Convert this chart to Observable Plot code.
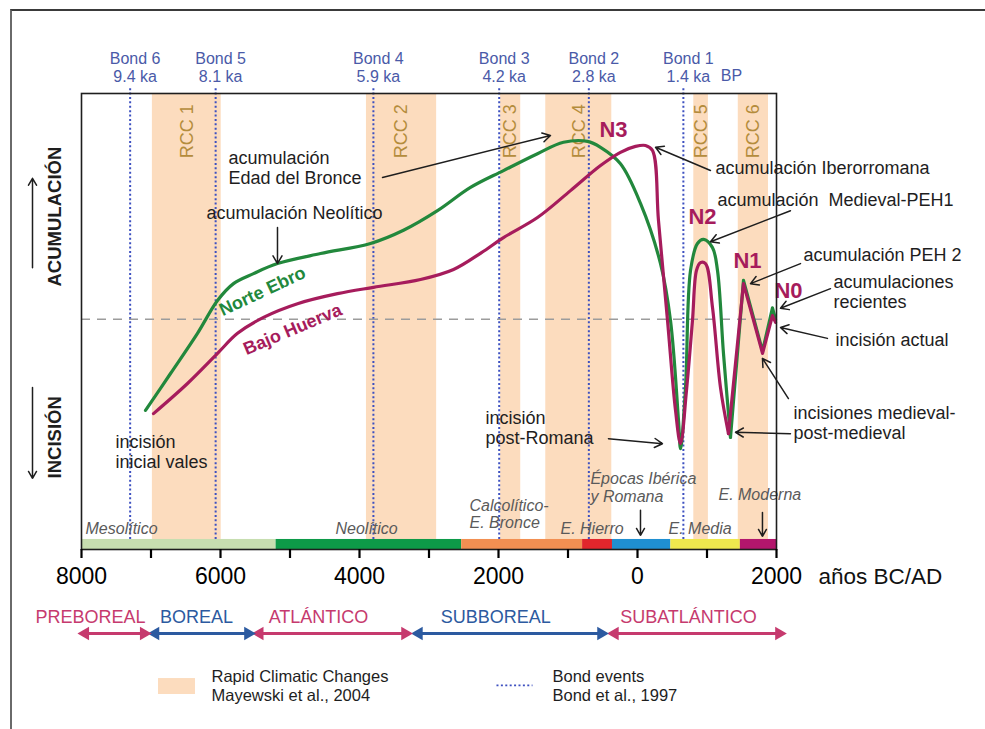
<!DOCTYPE html>
<html>
<head>
<meta charset="utf-8">
<script src="https://cdn.jsdelivr.net/npm/d3@7"></script>
<script src="https://cdn.jsdelivr.net/npm/@observablehq/plot@0.6"></script>
<style>
  body { margin: 0; background: #fff; }
  #wrap { position: relative; width: 985px; height: 729px; overflow: hidden; }
  #wrap svg { position: absolute; left: 0; top: 0; }
  #border { position: absolute; left: 10px; top: 9px; right: -5px; bottom: -5px;
            border-top: 2px solid #3a3a3a; border-left: 2px solid #6a6a6a; pointer-events: none; }
</style>
</head>
<body>
<div id="wrap"></div>
<script>
// ---------------- DATA ----------------
const tickYears = [-8000, -7000, -6000, -5000, -4000, -3000, -2000, -1000, 0, 1000, 2000];

// Norte Ebro (green) – years BC/AD and relative level (0 = dashed reference)
const ebroYears  = [-7079, -6719, -6331, -6043, -5813, -5525, -5180, -4561, -3842, -3367, -2878, -2403, -1928, -1439, -1065, -719, -532, -245, 43, 331, 475, 590, 619, 691, 763, 863, 950, 1079, 1151, 1237, 1338, 1525, 1799, 1942, 1986];
const ebroLevels = [-19.5, -11.4, -2.6, 4.6, 8.3, 10.5, 12.7, 14.9, 17.1, 20.0, 24.3, 29.4, 33.1, 36.8, 39.3, 39.5, 38.2, 34.6, 25.9, 12.7, 0.2, -21.7, -27.9, -14.5, 11.2, 17.1, 18.0, 16.2, 11.2, -7.0, -25.4, 9.0, -6.5, 3.0, 0.5];

// Bajo Huerva (magenta)
const huervaYears  = [-6964, -6475, -6043, -5755, -5381, -4892, -4317, -3799, -3122, -2647, -2245, -1928, -1439, -964, -532, -245, -29, 115, 216, 302, 432, 547, 619, 705, 791, 849, 906, 978, 1079, 1194, 1309, 1525, 1799, 1942, 1986];
const huervaLevels = [-20.2, -13.6, -7.0, -2.6, 0.9, 3.9, 6.1, 7.5, 9.2, 11.4, 15.1, 18.4, 22.8, 28.7, 34.2, 37.1, 38.4, 38.6, 37.5, 22.1, 0.2, -19.5, -26.8, -15.1, 0.2, 11.2, 12.9, 12.7, 3.1, -14.5, -24.6, 8.3, -7.0, 1.3, -0.2];

// Year from which the curves become straight zig-zags
const ebroZigzagFrom = 1338;
const huervaZigzagFrom = 1309;

// Rapid Climatic Changes (Mayewski et al., 2004)
const rccNames  = ["RCC 1", "RCC 2", "RCC 3", "RCC 4", "RCC 5", "RCC 6"];
const rccStarts = [-6980, -3900, -1970, -1320, 810, 1450];
const rccEnds   = [-5990, -2890, -1680, -370, 1020, 1885];

// Bond events
const bondNames = ["Bond 6", "Bond 5", "Bond 4", "Bond 3", "Bond 2", "Bond 1"];
const bondAges  = ["9.4 ka", "8.1 ka", "5.9 ka", "4.2 ka", "2.8 ka", "1.4 ka"];
const bondYears = [-7300, -6070, -3800, -1990, -700, 660];

// Cultural periods (colour bar)
const culturalStarts = [-8000, -5200, -2530, -790, -360, 480, 1480];
const culturalEnds   = [-5200, -2530, -790, -360, 480, 1480, 2000];
const culturalColors = ["#c7deb0", "#0d9a48", "#f28f52", "#e1262c", "#1f8fd1", "#efe84e", "#b3166c"];

const culturalLabels = ["Mesolítico", "Neolítico", "Calcolítico-\nE. Bronce", "E. Hierro", "Épocas Ibérica\ny Romana", "E. Media", "E. Moderna"];
const culturalLabelYears  = [-7942, -4345, -2417, -1108, -677, 446, 1165];
const culturalLabelLevels = [-45.4, -45.4, -42.2, -45.4, -36.4, -45.4, -38.0];
const culturalArrowYears = [43, 1798];
const culturalArrowFrom  = [-41.4, -41.9];
const culturalArrowTo    = [-46.9, -47.1];

// Climatic periods (Blytt–Sernander)
const climateNames  = ["PREBOREAL", "BOREAL", "ATLÁNTICO", "SUBBOREAL", "SUBATLÁNTICO"];
const climateStarts = [-7990, -6980, -5480, -3190, -370];
const climateEnds   = [-7060, -5560, -3300, -480, 2080];
const climateLabelYears = [-7870, -6345, -4590, -2040, 734];
const climateGroups = ["a", "b", "a", "b", "a"];

// Terrace levels
const terraceNames  = ["N3", "N2", "N1", "N0"];
const terraceYears  = [-346, 935, 1582, 2172];
const terraceLevels = [42.0, 23.0, 13.2, 6.6];

// Annotations
const noteTexts  = ["acumulación\nEdad del Bronce", "acumulación Neolítico", "acumulación Iberorromana", "acumulación  Medieval-PEH1", "acumulación PEH 2", "acumulaciones\nrecientes", "incisión actual", "incisiones medieval-\npost-medieval", "incisión\npost-Romana", "incisión\ninicial vales"];
const noteYears  = [-5885, -6201, 1122, 1151, 2388, 2820, 2849, 2244, -2187, -7511];
const noteLevels = [33.8, 23.9, 33.8, 26.8, 14.7, 6.5, -3.9, -22.1, -23.3, -28.5];

const arrowX1 = [-3669, -5180, 1050, 2201, 2345, 2777, 2733, 2172, 2201, -418];
const arrowY1 = [31.6, 20.6, 33.1, 24.3, 12.7, 7.2, -3.7, -16.9, -24.6, -25.7];
const arrowX2 = [-1252, -5180, 259, 1050, 1626, 2057, 2057, 1798, 1410, 359];
const arrowY2 = [40.8, 12.7, 38.2, 17.5, 8.3, 2.9, -1.3, -8.1, -24.3, -26.8];

// Series labels along curves
const seriesLabels = ["Norte Ebro", "Bajo Huerva"];
const seriesLabelYears = [-5396, -4964];
const seriesLabelLevels = [6.6, -1.75];

// Y-axis meaning
const sideLabels = ["ACUMULACIÓN", "INCISIÓN"];
const sideLabelLevels = [23.0, -25.4];
const sideArrowFrom = [11.8, -14.5];
const sideArrowTo = [31.4, -34.4];

// Layout levels (in chart units)
const dashLevel = 0.5;
const barBottom = -50, barTop = -47.8;
const plotTop = 50, bondTop = 51.3;
const bondLabelLevel = 55.7, bpLevel = 53.8, bpYear = 1352;
const rccLabelLevel = 41.7;
const tickLabelLevel = -55.9, axisUnitYear = 2604;
const climateLabelLevel = -64.9, climateArrowLevel = -68.4;
const sideX = -8374, sideArrowX = -8705;
const legendLevel = -79.8;
const legendRect = {x1: -6892, x2: -6360, y1: -81.8, y2: -78.3};
const legendRccTextYear = -6130;
const legendBondLine = {x1: -2029, x2: -1511};
const legendBondTextYear = -1223;

// ---------------- STYLE ----------------
const FONT = "Liberation Sans, Arial, Helvetica, sans-serif";
const GREEN = "#22883c", MAGENTA = "#a61c5c";
const RCC_FILL = "#fcdcbe", RCC_TEXT = "#b48c3c";
const BOND_BLUE = "#3d50c0", BOND_TEXT = "#4a5aa8";
const CLIMATE = {a: "#c63a6e", b: "#2c5aa0"};
const INK = "#1e1e1e";

// ---------------- BUILD ----------------
const ebro = ebroYears.map((x, i) => ({x, y: ebroLevels[i]}));
const huerva = huervaYears.map((x, i) => ({x, y: huervaLevels[i]}));
const rcc = rccNames.map((name, i) => ({name, start: rccStarts[i], end: rccEnds[i], mid: (rccStarts[i] + rccEnds[i]) / 2}));
const bonds = bondNames.map((name, i) => ({label: name + "\n" + bondAges[i], year: bondYears[i]}));
const cultural = culturalStarts.map((s, i) => ({start: s, end: culturalEnds[i], color: culturalColors[i]}));
const culturalText = culturalLabels.map((t, i) => ({t, x: culturalLabelYears[i], y: culturalLabelLevels[i]}));
const culturalArrows = culturalArrowYears.map((x, i) => ({x, y1: culturalArrowFrom[i], y2: culturalArrowTo[i]}));
const climate = climateNames.map((name, i) => ({name, start: climateStarts[i], end: climateEnds[i], lx: climateLabelYears[i], color: CLIMATE[climateGroups[i]]}));
const terraces = terraceNames.map((t, i) => ({t, x: terraceYears[i], y: terraceLevels[i]}));
const notes = noteTexts.map((t, i) => ({t, x: noteYears[i], y: noteLevels[i]}));
const arrows = arrowX1.map((x1, i) => ({x1, y1: arrowY1[i], x2: arrowX2[i], y2: arrowY2[i]}));
const sides = sideLabels.map((t, i) => ({t, y: sideLabelLevels[i], y1: sideArrowFrom[i], y2: sideArrowTo[i]}));

const chart = Plot.plot({
  width: 985,
  height: 729,
  marginTop: 93,
  marginBottom: 180,
  marginLeft: 81,
  marginRight: 209,
  style: {fontFamily: FONT, background: "transparent", overflow: "visible"},
  x: {domain: [-8000, 2000]},
  y: {domain: [-50, 50], axis: null},
  marks: [
    // RCC bands
    Plot.rect(rcc, {x1: "start", x2: "end", y1: barTop, y2: plotTop, fill: RCC_FILL}),
    Plot.text(rcc, {x: "mid", y: rccLabelLevel, text: "name", rotate: -90, fontSize: 18, fill: RCC_TEXT}),
    // Bond events
    Plot.ruleX(bonds, {x: "year", y1: barTop, y2: bondTop, stroke: BOND_BLUE, strokeWidth: 2, strokeDasharray: "2,2.4"}),
    Plot.text(bonds, {x: "year", y: bondLabelLevel, text: "label", dx: 5, fontSize: 16, lineHeight: 1.1, fill: BOND_TEXT}),
    Plot.text(["BP"], {x: bpYear, y: bpLevel, text: d => d, fontSize: 16, fill: BOND_TEXT}),
    // reference line
    Plot.ruleY([dashLevel], {stroke: "#9c9c9c", strokeWidth: 1.5, strokeDasharray: "9,7"}),
    // cultural colour bar
    Plot.rect(cultural, {x1: "start", x2: "end", y1: barBottom, y2: barTop, fill: "color"}),
    Plot.text(culturalText, {x: "x", y: "y", text: "t", textAnchor: "start", fontSize: 16, fontStyle: "italic", lineHeight: 1.1, fill: "#5a5a5a"}),
    Plot.arrow(culturalArrows, {x1: "x", x2: "x", y1: "y1", y2: "y2", stroke: INK, strokeWidth: 1.5, headLength: 8}),
    // curves
    Plot.line(ebro.filter(d => d.x <= ebroZigzagFrom), {x: "x", y: "y", curve: "catmull-rom", stroke: GREEN, strokeWidth: 3.2}),
    Plot.line(ebro.filter(d => d.x >= ebroZigzagFrom), {x: "x", y: "y", curve: "linear", stroke: GREEN, strokeWidth: 3.2, strokeLinejoin: "round"}),
    Plot.line(huerva.filter(d => d.x <= huervaZigzagFrom), {x: "x", y: "y", curve: "catmull-rom", stroke: MAGENTA, strokeWidth: 3.2}),
    Plot.line(huerva.filter(d => d.x >= huervaZigzagFrom), {x: "x", y: "y", curve: "linear", stroke: MAGENTA, strokeWidth: 3.2, strokeLinejoin: "round"}),
    // series labels along curves
    Plot.text([seriesLabels[0]], {x: seriesLabelYears[0], y: seriesLabelLevels[0], text: d => d, rotate: -25, fontSize: 18, fontWeight: "bold", fill: GREEN}),
    Plot.text([seriesLabels[1]], {x: seriesLabelYears[1], y: seriesLabelLevels[1], text: d => d, rotate: -23, fontSize: 18, fontWeight: "bold", fill: MAGENTA}),
    // terrace labels
    Plot.text(terraces, {x: "x", y: "y", text: "t", fontSize: 22, fontWeight: "bold", fill: MAGENTA}),
    // annotations
    Plot.text(notes, {x: "x", y: "y", text: "t", textAnchor: "start", fontSize: 18, lineHeight: 1.12, fill: INK}),
    Plot.arrow(arrows, {x1: "x1", y1: "y1", x2: "x2", y2: "y2", stroke: INK, strokeWidth: 1.5, headLength: 9}),
    // side labels
    Plot.text(sides, {x: sideX, y: "y", text: "t", rotate: -90, fontSize: 18.5, fontWeight: "bold", fill: INK}),
    Plot.arrow(sides, {x1: sideArrowX, x2: sideArrowX, y1: "y1", y2: "y2", stroke: INK, strokeWidth: 1.5, headLength: 8}),
    // frame and axis
    Plot.frame({stroke: INK, strokeWidth: 1.6}),
    Plot.axisX({ticks: tickYears, tickSize: 9, tickPadding: 9, strokeWidth: 2.2, fontSize: 23, label: null,
                tickFormat: d => (d % 2000 === 0 ? String(Math.abs(d)) : "")}),
    Plot.text(["años BC/AD"], {x: axisUnitYear, y: tickLabelLevel, text: d => d, textAnchor: "start", fontSize: 22.5, fill: "#111"}),
    // climatic periods
    Plot.link(climate, {x1: "start", x2: "end", y1: climateArrowLevel, y2: climateArrowLevel, stroke: "color", strokeWidth: 3}),
    Plot.dot(climate, {x: "start", y: climateArrowLevel, symbol: "triangle", rotate: -90, r: 5, dx: 3, fill: "color"}),
    Plot.dot(climate, {x: "end", y: climateArrowLevel, symbol: "triangle", rotate: 90, r: 5, dx: -3, fill: "color"}),
    Plot.text(climate, {x: "lx", y: climateLabelLevel, text: "name", fontSize: 18, fill: "color"}),
    // legend
    Plot.rect([legendRect], {x1: "x1", x2: "x2", y1: "y1", y2: "y2", fill: RCC_FILL}),
    Plot.text(["Rapid Climatic Changes\nMayewski et al., 2004"], {x: legendRccTextYear, y: legendLevel, text: d => d, textAnchor: "start", fontSize: 16.5, lineHeight: 1.12, fill: INK}),
    Plot.link([legendBondLine], {x1: "x1", x2: "x2", y1: legendLevel, y2: legendLevel, stroke: BOND_BLUE, strokeWidth: 1.6, strokeDasharray: "2,2.4"}),
    Plot.text(["Bond events\nBond et al., 1997"], {x: legendBondTextYear, y: legendLevel, text: d => d, textAnchor: "start", fontSize: 16.5, lineHeight: 1.12, fill: INK})
  ]
});

const wrap = document.getElementById("wrap");
wrap.appendChild(chart);
const border = document.createElement("div");
border.id = "border";
wrap.appendChild(border);
</script>
</body>
</html>
